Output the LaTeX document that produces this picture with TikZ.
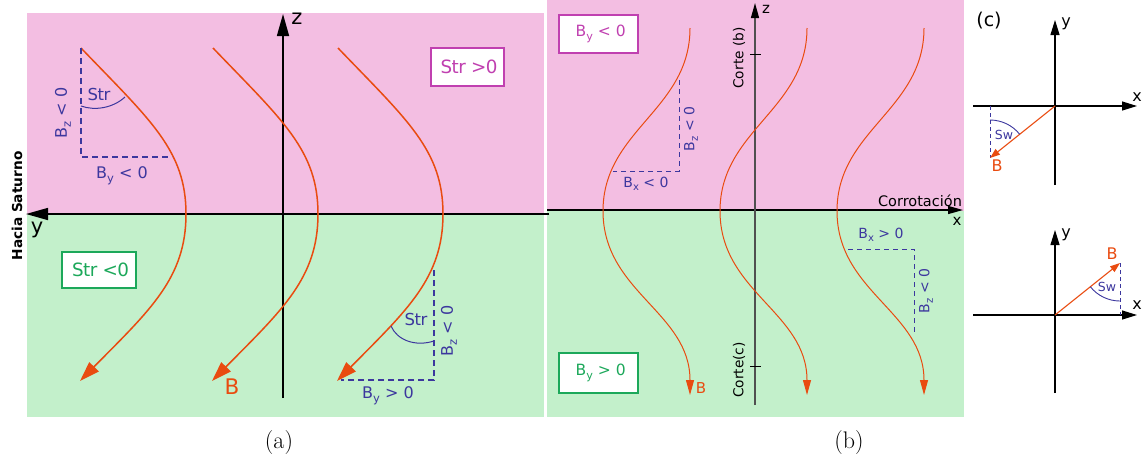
\documentclass[tikz,border=0pt]{standalone}
\usepackage{fontspec}
\newfontfamily\dv{DejaVu Sans}
\newfontfamily\dvt{DejaVu Sans}[LetterSpace=-3]
\usetikzlibrary{arrows.meta}
\definecolor{pinkbg}{HTML}{F3BEE2}
\definecolor{greenbg}{HTML}{C3F0CB}
\definecolor{borange}{HTML}{E94B10}
\definecolor{dblue}{HTML}{3C379E}
\definecolor{magtext}{HTML}{C040B0}
\definecolor{grntext}{HTML}{1CA85A}
\definecolor{axgray}{HTML}{505050}
\newcommand\fs[1]{\fontsize{#1}{#1}\selectfont}
\newcommand\sbs[1]{\raisebox{-0.25em}{\scalebox{0.72}{#1}}}
\begin{document}
\begin{tikzpicture}[x=1pt,y=1pt,yscale=-1,
  every node/.style={inner sep=0pt},
  lab/.style={font=\dv\fs{16}, text=dblue},
  labs/.style={font=\dv\fs{14}, text=dblue},
  blk/.style={font=\dv\fs{#1}, text=black},
  dashA/.style={dblue, line width=1.1pt, dash pattern=on 6pt off 4pt},
  dashB/.style={dblue, line width=0.9pt, dash pattern=on 5pt off 4pt},
  dashC/.style={dblue, line width=0.8pt, dash pattern=on 4pt off 3pt},
  curveA/.style={borange, line width=1.5pt, -{Triangle[length=20pt,width=13pt]}},
  curveB/.style={borange, line width=1pt, -{Triangle[length=15pt,width=8pt]}},
  vecC/.style={borange, line width=1.1pt, -{Triangle[length=10pt,width=7pt]}},
  axA/.style={black, line width=1.5pt, -{Triangle[length=22pt,width=12pt]}},
  axB/.style={line width=1.3pt, -{Triangle[length=15pt,width=8pt,black]}},
  axC/.style={black, line width=1.2pt, -{Triangle[length=15pt,width=9pt]}},
  boxM/.style={draw=magtext, fill=white, line width=1.1pt, text=magtext},
  boxG/.style={draw=grntext, fill=white, line width=1.1pt, text=grntext},
]
\useasboundingbox (0,0) rectangle (1142,467);
% ---------------- panel (a) backgrounds
\fill[pinkbg] (27,13) rectangle (544,214);
\fill[greenbg] (27,214) rectangle (544,417);
% ---------------- panel (b) backgrounds
\fill[pinkbg] (547,0) rectangle (964,211);
\fill[greenbg] (547,211) rectangle (964,417);

% ================= panel (a)
\coordinate (ayR) at (549,214);
\coordinate (ayL) at (26,214);
\coordinate (azB) at (283,398);
\coordinate (azT) at (283,14);
\draw[axA] (ayR) -- (ayL);
\draw[axA] (azB) -- (azT);
\node[blk=21] (ylab) at (37,230) {y};
\node[blk=21] (zlab) at (297,19) {z};
\node[font=\dv\bfseries\fs{13.7}, rotate=90] (hacia) at (17,206) {Hacia Saturno};

% curves
\coordinate (a1s) at (81,48);  \coordinate (a1m) at (186,214); \coordinate (a1e) at (80,381);
\coordinate (a2s) at (213,48); \coordinate (a2m) at (318,214); \coordinate (a2e) at (212,381);
\coordinate (a3s) at (338,48); \coordinate (a3m) at (443,214); \coordinate (a3e) at (337,381);
\draw[curveA] (a1s) .. controls (150,120) and (186,150) .. (a1m) .. controls (186,278) and (150,310) .. (a1e);
\draw[curveA] (a2s) .. controls (282,120) and (318,150) .. (a2m) .. controls (318,278) and (282,310) .. (a2e);
\draw[curveA] (a3s) .. controls (407,120) and (443,150) .. (a3m) .. controls (443,278) and (407,310) .. (a3e);
\node[font=\dv\fs{21.5}, text=borange] (Ba) at (232,387) {B};

% top angle construction
\coordinate (tc) at (81,157);
\coordinate (th) at (172,157);
\draw[dashA] (a1s) -- (tc) -- (th);
\coordinate (ta1) at (81,106);
\coordinate (ta2) at (125,97);
\draw[dblue, line width=1pt] (ta1) .. controls (95,111) and (113,108) .. (ta2);
\node[font=\dvt\fs{16.5}, text=dblue] (strT) at (99,94) {Str};
\node[lab, rotate=90] (bzT) at (63,113) {B\sbs{z} < 0};
\node[lab, anchor=base] (byT) at (122,178) {B\sbs{y} < 0};

% bottom angle construction
\coordinate (bv) at (434,270);
\coordinate (bc) at (434,380);
\coordinate (bh) at (341,380);
\draw[dashA] (bv) -- (bc) -- (bh);
\coordinate (ba1) at (391,326);
\coordinate (ba2) at (434,341);
\draw[dblue, line width=1pt] (ba1) .. controls (397,340) and (415,347) .. (ba2);
\node[font=\dvt\fs{16.5}, text=dblue] (strB) at (416,319) {Str};
\node[lab, rotate=90] (bzB) at (449,331) {B\sbs{z} < 0};
\node[lab, anchor=base] (byB) at (388,398) {B\sbs{y} > 0};

% boxes
\node[boxM, minimum width=73pt, minimum height=38pt, font=\dvt\fs{18.3}] (strpos) at (467.5,67) {\,Str >0};
\node[boxG, minimum width=74pt, minimum height=36pt, font=\dvt\fs{18.3}] (strneg) at (99,270) {\,Str <0};

\node[font=\fs{24}] (capa) at (279,443) {(a)};

% ================= panel (b)
\coordinate (bxL) at (547,210);
\coordinate (bxR) at (963,210);
\draw[axB, black] (bxL) -- (bxR);
\coordinate (bzBot) at (755,405);
\coordinate (bzTop) at (755,3);
\draw[axB, axgray] (bzBot) -- (bzTop);
\coordinate (tk1a) at (750,54); \coordinate (tk1b) at (761,54);
\coordinate (tk2a) at (750,366); \coordinate (tk2b) at (761,366);
\draw[black, line width=0.9pt] (tk1a) -- (tk1b);
\draw[black, line width=0.9pt] (tk2a) -- (tk2b);
\node[blk=15] (zb) at (766,9) {z};
\node[blk=15] (xb) at (957,221) {x};
\node[blk=14.5, anchor=base] (corr) at (920,206) {Corrotación};
\node[blk=13.7, rotate=90] (corteb) at (739,58) {Corte (b)};
\node[blk=13.7, rotate=90] (cortec) at (739,370) {Corte(c)};

\coordinate (b1s) at (690,28);  \coordinate (b1m) at (603,211); \coordinate (b1e) at (690,395);
\coordinate (b2s) at (807,28);  \coordinate (b2m) at (720,211); \coordinate (b2e) at (807,395);
\coordinate (b3s) at (924,28);  \coordinate (b3m) at (837,211); \coordinate (b3e) at (924,395);
\draw[curveB] (b1s) .. controls (690,110) and (603,130) .. (b1m) .. controls (603,292) and (690,312) .. (b1e);
\draw[curveB] (b2s) .. controls (807,110) and (720,130) .. (b2m) .. controls (720,292) and (807,312) .. (b2e);
\draw[curveB] (b3s) .. controls (924,110) and (837,130) .. (b3m) .. controls (837,292) and (924,312) .. (b3e);
\node[font=\dv\fs{15}, text=borange] (Bb) at (701,388) {B};

\coordinate (pbv) at (679,80); \coordinate (pbc) at (679,171); \coordinate (pbh) at (613,171);
\draw[dashB] (pbv) -- (pbc) -- (pbh);
\node[labs, rotate=90] (bzb1) at (691,129) {B\sbs{z} < 0};
\node[labs, anchor=base] (bxb1) at (646,187) {B\sbs{x} < 0};

\coordinate (qbh) at (848,249); \coordinate (qbc) at (914,249); \coordinate (qbv) at (914,332);
\draw[dashB] (qbh) -- (qbc) -- (qbv);
\node[labs] (bxb2) at (881,235) {B\sbs{x} > 0};
\node[labs, rotate=90] (bzb2) at (926,291) {B\sbs{z} < 0};

\node[boxM, minimum width=79pt, minimum height=38pt, font=\dv\fs{15.5}] (bylt) at (598.5,34) {\;B\sbs{y} < 0};
\node[boxG, minimum width=79pt, minimum height=40pt, font=\dv\fs{15.5}] (bygt) at (598.5,373) {\;B\sbs{y} > 0};

\node[font=\fs{24}] (capb) at (849,443) {(b)};

% ================= panel (c)
\node[blk=19] (capc) at (989,21) {(c)};
% top
\coordinate (c1L) at (973,106); \coordinate (c1R) at (1137,106);
\coordinate (c1B) at (1055,185); \coordinate (c1T) at (1055,20);
\coordinate (c1o) at (1055,106); \coordinate (c1t) at (990,158); \coordinate (c1d) at (990,106);
\draw[axC] (c1L) -- (c1R);
\draw[axC] (c1B) -- (c1T);
\draw[dashC] (c1d) -- (c1t);
\draw[vecC] (c1o) -- (c1t);
\draw[dblue, line width=0.9pt] (990,120) arc[start angle=-90, end angle=-38.7, radius=38];
\node[blk=16] (cy1) at (1066,24) {y};
\node[blk=16] (cx1) at (1137,97) {x};
\node[font=\dv\fs{16}, text=borange] (cB1) at (997,166) {B};
\node[font=\dv\fs{12.5}, text=dblue] (sw1) at (1004,135) {Sw};
% bottom
\coordinate (c2L) at (973,315); \coordinate (c2R) at (1137,315);
\coordinate (c2B) at (1055,393); \coordinate (c2T) at (1055,230);
\coordinate (c2o) at (1055,315); \coordinate (c2t) at (1120,263); \coordinate (c2d) at (1120,315);
\draw[axC] (c2L) -- (c2R);
\draw[axC] (c2B) -- (c2T);
\draw[dashC] (c2t) -- (c2d);
\draw[vecC] (c2o) -- (c2t);
\draw[dblue, line width=0.9pt] (1120,301) arc[start angle=90, end angle=141.3, radius=38];
\node[blk=16] (cy2) at (1066,235) {y};
\node[blk=16] (cx2) at (1137,305) {x};
\node[font=\dv\fs{16}, text=borange] (cB2) at (1112,254) {B};
\node[font=\dv\fs{12.5}, text=dblue] (sw2) at (1107,287) {Sw};
\end{tikzpicture}
\end{document}
